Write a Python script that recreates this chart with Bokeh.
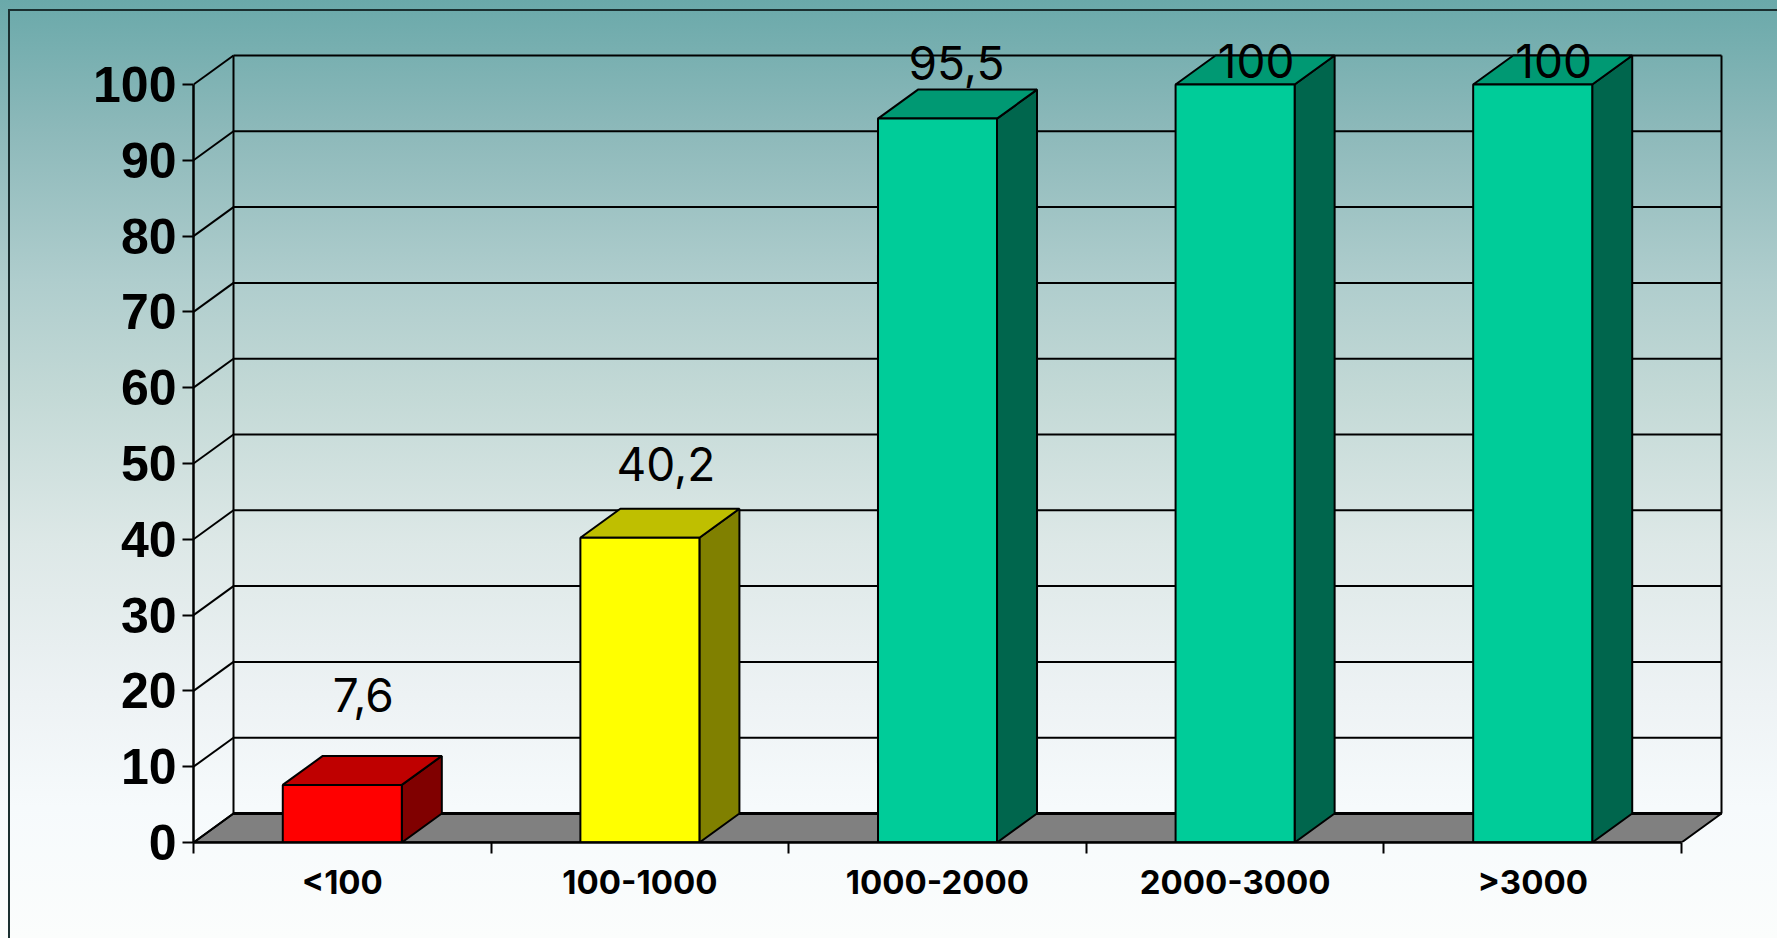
from bokeh.plotting import figure
from bokeh.models import Range1d, FixedTicker
from bokeh.core.properties import value
from bokeh.embed import file_html
from bokeh.resources import INLINE

# ---- data ----
categories = ["<100", "100-1000", "1000-2000", "2000-3000", ">3000"]
values = [7.6, 40.2, 95.5, 100, 100]
value_labels = ["7,6", "40,2", "95,5", "100", "100"]
y_ticks = [0, 10, 20, 30, 40, 50, 60, 70, 80, 90, 100]

# ---- style / layout ----
front_colors = ["#ff0000", "#ffff00", "#00cc99", "#00cc99", "#00cc99"]
top_colors = ["#bf0000", "#bfbf00", "#009973", "#009973", "#009973"]
side_colors = ["#800000", "#808000", "#00664d", "#00664d", "#00664d"]
label_lift_px = [89.5, 74, 56, 23.5, 23.5]
label_shift_px = [21, 26, 19, 21, 21]
LINE = 2

W, H = 1777, 938
LEFT, BOTTOM_PX = 193, 842
PX_PER_CAT, PX_PER_UNIT = 297.6, 7.58
DX = 40 / PX_PER_CAT
DY = 29 / PX_PER_UNIT
HALF_BAR = 0.2
N = len(categories)

p = figure(width=W, height=H, output_backend="svg", toolbar_location=None,
           x_range=Range1d(0, (W - LEFT) / PX_PER_CAT),
           y_range=Range1d(0, BOTTOM_PX / PX_PER_UNIT),
           min_border_left=LEFT, min_border_right=0, min_border_top=0,
           min_border_bottom=H - BOTTOM_PX, margin=(0, 0, 0, 0))
FRAME = "linear-gradient(#1a2f30, #1a2f30)"
p.styles = {"background": f"{FRAME} 8px 9px / 2px 100% no-repeat, {FRAME} 8px 9px / 100% 2px no-repeat, "
                          "linear-gradient(180deg, #6aa9aa 0%, #8db9ba 14%, #afcdcd 30%, "
                          "#c3d9d6 42%, #dde8e7 58%, #edf2f4 74%, #f6fafc 86%, #fbfdfc 100%)"}
p.background_fill_color = None
p.border_fill_color = None
p.outline_line_color = None
p.grid.visible = False

# floor
p.patch([0, N, N + DX, DX], [0, 0, DY, DY], fill_color="#808080", line_color="black", line_width=LINE)
p.segment([DX], [DY], [N + DX], [DY], line_color="black", line_width=3)

# walls and grid
p.segment([DX] * len(y_ticks), [t + DY for t in y_ticks], [N + DX] * len(y_ticks),
          [t + DY for t in y_ticks], line_color="black", line_width=LINE)
p.segment([0] * len(y_ticks), y_ticks, [DX] * len(y_ticks), [t + DY for t in y_ticks],
          line_color="black", line_width=LINE)
p.segment([DX, N + DX], [DY, DY], [DX, N + DX], [100 + DY, 100 + DY], line_color="black", line_width=LINE)

# bars
for i, v in enumerate(values):
    l, r = i + 0.5 - HALF_BAR, i + 0.5 + HALF_BAR
    p.patch([r, r + DX, r + DX, r], [0, DY, v + DY, v], fill_color=side_colors[i], line_color="black", line_width=LINE)
    p.patch([l, r, r + DX, l + DX], [v, v, v + DY, v + DY], fill_color=top_colors[i], line_color="black", line_width=LINE)
    p.patch([l, r, r, l], [0, 0, v, v], fill_color=front_colors[i], line_color="black", line_width=LINE)

# value labels
p.text(x=[i + 0.5 for i in range(N)], y=values, text=value_labels,
       x_offset=label_shift_px, y_offset=[-d for d in label_lift_px],
       text_font=value("Inter"), text_font_size="46px", text_color="black",
       text_align="center", text_baseline="middle")

# axes
xa = p.xaxis[0]
xa.bounds = (0, N)
xa.ticker = FixedTicker(ticks=[i + 0.5 for i in range(N)], minor_ticks=list(range(N + 1)))
xa.major_label_overrides = {i + 0.5: c for i, c in enumerate(categories)}
xa.major_tick_out = 0
xa.major_tick_in = 0
xa.minor_tick_out = 11
xa.minor_tick_in = 0
xa.minor_tick_line_color = "black"
xa.minor_tick_line_width = LINE
xa.axis_line_color = "black"
xa.axis_line_width = 2.5
xa.major_label_standoff = 8
xa.major_label_text_font = "Inter"
xa.major_label_text_font_style = "bold"
xa.major_label_text_font_size = "33px"
xa.major_label_text_color = "black"

ya = p.yaxis[0]
ya.bounds = (0, 100)
ya.ticker = FixedTicker(ticks=y_ticks)
ya.major_tick_out = 11
ya.major_tick_in = 0
ya.minor_tick_out = 0
ya.minor_tick_in = 0
ya.major_tick_line_color = "black"
ya.major_tick_line_width = LINE
ya.axis_line_color = "black"
ya.axis_line_width = 2.5
ya.major_label_standoff = 6
ya.major_label_text_font = "Liberation Sans"
ya.major_label_text_font_style = "bold"
ya.major_label_text_font_size = "50px"
ya.major_label_text_color = "black"

open("out.html", "w").write(file_html(p, INLINE))
